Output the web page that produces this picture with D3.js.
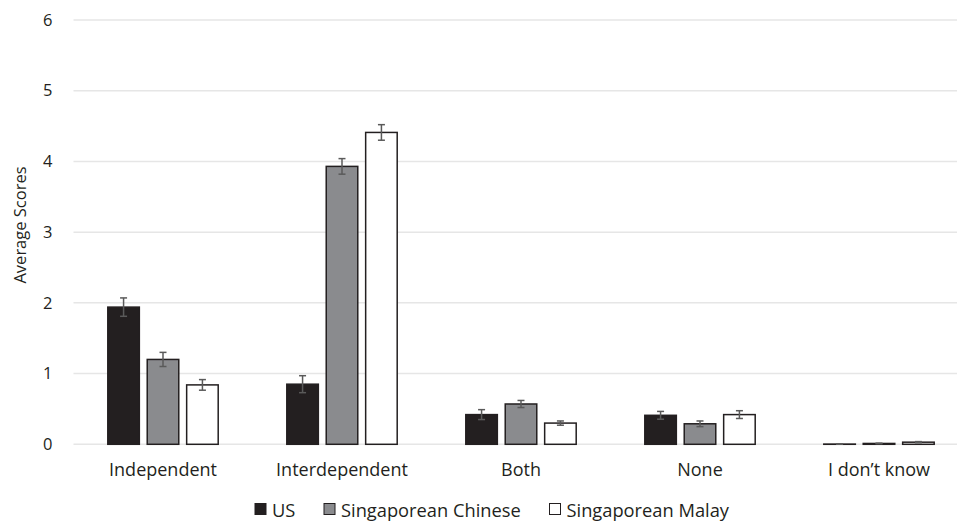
<!DOCTYPE html>
<html>
<head>
<meta charset="utf-8">
<script src="https://cdn.jsdelivr.net/npm/d3@7"></script>
<style>
  html, body { margin: 0; padding: 0; background: #fff; }
  svg { display: block; font-family: "Open Sans", sans-serif; }
</style>
</head>
<body>
<svg id="chart" width="957" height="521"></svg>
<script>
// Response categories on the x axis
const categories = ["Independent", "Interdependent", "Both", "None", "I don\u2019t know"];
// Sample groups (legend order)
const groups = ["US", "Singaporean Chinese", "Singaporean Malay"];
// Average scores per group, in category order
const usValues      = [1.94, 0.85, 0.42, 0.41, 0.003];
const chineseValues = [1.20, 3.93, 0.57, 0.29, 0.012];
const malayValues   = [0.84, 4.41, 0.30, 0.42, 0.03];
// Standard errors per group, in category order
const usErrors      = [0.13, 0.12, 0.07, 0.055, 0.002];
const chineseErrors = [0.10, 0.11, 0.05, 0.04, 0.004];
const malayErrors   = [0.075, 0.11, 0.03, 0.055, 0.008];
// Y axis ticks
const yTicks = [0, 1, 2, 3, 4, 5, 6];

const groupFill   = ["#231f20", "#8a8b8e", "#ffffff"];
const valuesByGroup = [usValues, chineseValues, malayValues];
const errorsByGroup = [usErrors, chineseErrors, malayErrors];

const svg = d3.select("#chart");
const plot = { left: 73.5, right: 968.5, top: 20, bottom: 444.3 };

const x0 = d3.scaleBand().domain(categories).range([plot.left, plot.right]).paddingInner(0).paddingOuter(0);
const x1 = d3.scaleBand().domain(groups).range([0, x0.bandwidth()]).paddingInner(0.2).paddingOuter(0.87);
const y = d3.scaleLinear().domain([0, 6]).range([plot.bottom, plot.top]);

// Horizontal gridlines
svg.append("g").selectAll("line").data(yTicks).join("line")
  .attr("x1", plot.left).attr("x2", plot.right)
  .attr("y1", d => y(d)).attr("y2", d => y(d))
  .attr("stroke", "#e6e6e6").attr("stroke-width", 1.5);

// Y tick labels
const yAxis = svg.append("g")
  .attr("transform", `translate(${plot.left},0)`)
  .call(d3.axisLeft(y).tickValues(yTicks).tickSize(0).tickPadding(21).tickFormat(d3.format("d")));
yAxis.select(".domain").remove();
yAxis.selectAll("text").attr("font-size", 16.5).attr("fill", "#231f20").attr("font-family", "Open Sans, sans-serif");

// Y axis title
svg.append("text")
  .attr("transform", "translate(26,225) rotate(-90)")
  .attr("text-anchor", "middle")
  .attr("font-size", 16.5).attr("fill", "#231f20")
  .text("Average Scores");

// Bars
const rows = [];
categories.forEach((c, ci) => {
  groups.forEach((g, gi) => {
    rows.push({ cat: c, group: g, gi, value: valuesByGroup[gi][ci], err: errorsByGroup[gi][ci] });
  });
});

const barW = x1.bandwidth();
svg.append("g").selectAll("rect").data(rows).join("rect")
  .attr("x", d => x0(d.cat) + x1(d.group))
  .attr("y", d => y(d.value))
  .attr("width", barW)
  .attr("height", d => y(0) - y(d.value))
  .attr("fill", d => groupFill[d.gi])
  .attr("stroke", "#231f20").attr("stroke-width", 1.5);

// Error bars
const eb = svg.append("g").attr("stroke", "#5a5a5a").attr("stroke-width", 1.5);
rows.forEach(d => {
  const cx = x0(d.cat) + x1(d.group) + barW / 2;
  const yt = y(d.value + d.err), yb = y(Math.max(0, d.value - d.err));
  eb.append("line").attr("x1", cx).attr("x2", cx).attr("y1", yt).attr("y2", yb);
  eb.append("line").attr("x1", cx - 3.5).attr("x2", cx + 3.5).attr("y1", yt).attr("y2", yt);
  eb.append("line").attr("x1", cx - 3.5).attr("x2", cx + 3.5).attr("y1", yb).attr("y2", yb);
});

// X category labels
const xAxis = svg.append("g")
  .attr("transform", `translate(0,${plot.bottom})`)
  .call(d3.axisBottom(x0).tickSize(0).tickPadding(19));
xAxis.select(".domain").remove();
xAxis.selectAll("text").attr("font-size", 18).attr("fill", "#231f20").attr("font-family", "Open Sans, sans-serif");

// Legend
const legendX = [255, 324, 549.5];
const legend = svg.append("g");
groups.forEach((g, i) => {
  legend.append("rect")
    .attr("x", legendX[i]).attr("y", 503.5).attr("width", 11).attr("height", 11)
    .attr("fill", groupFill[i]).attr("stroke", "#231f20").attr("stroke-width", 1);
  legend.append("text")
    .attr("x", legendX[i] + 17).attr("y", 516.5)
    .attr("font-size", 18.3).attr("fill", "#231f20")
    .text(g);
});
</script>
</body>
</html>
